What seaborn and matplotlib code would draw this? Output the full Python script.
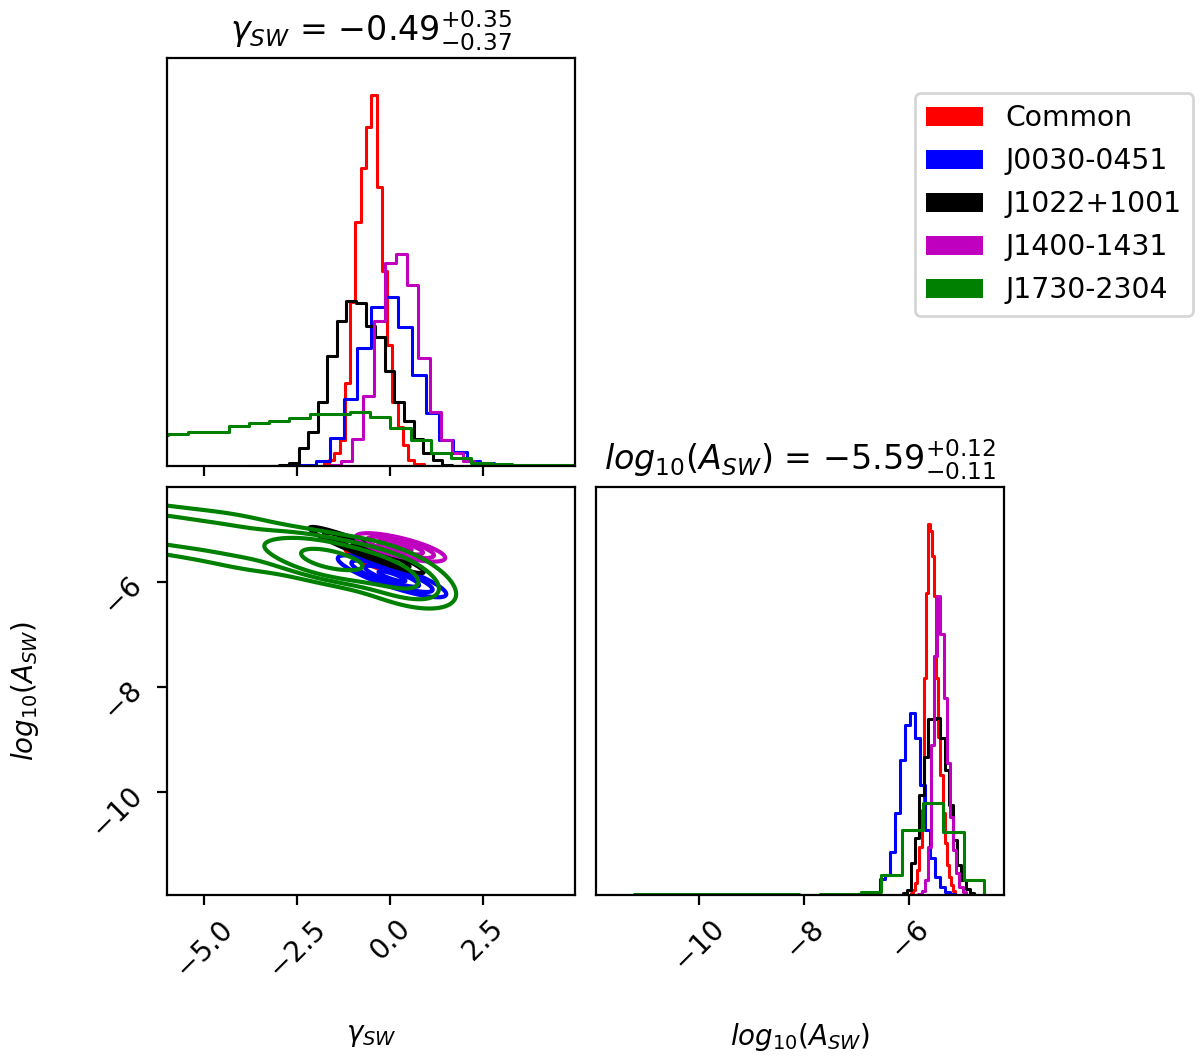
import numpy as np
import pandas as pd
import matplotlib
matplotlib.use("Agg")
import matplotlib.pyplot as plt
import seaborn as sns
from matplotlib.patches import Patch
from matplotlib.ticker import FixedLocator, NullLocator

# ---------------- data ----------------
series_names = ["Common", "J0030-0451", "J1022+1001", "J1400-1431", "J1730-2304"]
series_colors = ["red", "blue", "black", "m", "green"]

# gamma_SW histograms (bin start, bin width, counts)
gam_red_start, gam_red_width = -1.786, 0.142
gam_red_counts = [2.7, 6, 12.7, 26, 82.7, 164, 244, 297.7, 338.7, 371, 279.3, 195, 121,
                  64.3, 39.3, 21, 6, 1.7, 1.7]
gam_blue_start, gam_blue_width = -3.46, 0.368
gam_blue_counts = [0.3, 0.5, 1, 1.5, 5, 27.7, 66.7, 117.7, 159.3, 168.7, 138.7, 91, 52.7,
                   26, 14.3, 5.3, 3]
gam_black_start, gam_black_width = -2.98, 0.258
gam_black_counts = [1, 3.3, 17.7, 34, 64, 110, 145, 165, 163, 140, 129, 95, 64, 45, 27,
                    13, 6, 1.5]
gam_mag_start, gam_mag_width = -1.917, 0.2976
gam_mag_counts = [0.5, 1.5, 5.3, 27, 70, 145, 203, 212, 181, 108, 54, 26, 13, 5, 1.5]
gam_green_start, gam_green_width = -6.52, 0.544
gam_green_counts = [31, 32, 34.3, 34.3, 40, 42.7, 45.3, 47.7, 52.5, 52.5, 54.5, 48.7, 37.7,
                    26.5, 13.5, 7.7, 3.5, 1.8, 1.5, 1.5, 1.5, 1.5]

# log10(A_SW) histograms
amp_red_start, amp_red_width = -5.97, 0.04
amp_red_counts = [2, 5, 12, 25, 48, 85, 218, 303, 372, 365, 340, 300, 218, 158, 120, 82,
                  52, 30, 18, 10, 4]
amp_blue_start, amp_blue_width = -6.65, 0.095
amp_blue_counts = [2, 16, 20, 43, 82, 135, 170, 183, 157, 110, 65, 37, 18, 8, 3, 1]
amp_black_start, amp_black_width = -6.13, 0.08
amp_black_counts = [2, 5, 32, 57, 100, 138, 177, 177, 178, 157, 125, 90, 55, 30, 15, 6, 2]
amp_mag_start, amp_mag_width = -5.83, 0.06
amp_mag_counts = [1, 4, 15, 48, 150, 240, 300, 262, 198, 132, 78, 45, 22, 8, 3]
amp_green_start, amp_green_width = -11.24, 0.392
amp_green_counts = [1.5, 1.5, 1.5, 1.5, 1.5, 1.5, 1.5, 1.5, 0, 1.5, 1.5, 3.3, 20, 65, 92,
                    63, 15]

# 2D posteriors (Gaussian summaries): Common, J0030, J1022, J1400
ell_mx = [-0.49, 0.05, -0.63, 0.28]
ell_my = [-5.58, -5.90, -5.40, -5.35]
ell_sx = [0.36, 0.73, 0.77, 0.60]
ell_sy = [0.12, 0.20, 0.22, 0.135]
ell_rho = [-0.85, -0.85, -0.95, -0.74]

# J1730-2304: elongated band, sum of tilted components
green_w = [0.10, 0.18, 0.17, 0.32, 0.23]
green_mx = [-9.0, -6.3, -3.8, -1.7, 0.1]
green_sx = [1.3, 1.3, 1.2, 0.85, 0.95]
green_my = [-4.78, -5.00, -5.28, -5.57, -5.87]
green_slope = [-0.05, -0.10, -0.13, -0.15, -0.22]
green_sc = [0.30, 0.30, 0.36, 0.21, 0.30]

sigma_levels = [0.5, 1.0, 1.5, 2.0]

gamma_ticks = [-5.0, -2.5, 0.0, 2.5]
amp_ticks = [-10, -8, -6]
gamma_lim = (-6.0, 4.97)
amp_lim = (-11.97, -4.2)

gamma_med, gamma_up, gamma_lo = -0.49, 0.35, 0.37
amp_med, amp_up, amp_lo = -5.59, 0.12, 0.11

# ---------------- style ----------------
sns.set_style("ticks")
plt.rcParams.update({
    "font.family": ["DejaVu Sans"],
    "font.size": 10,
    "axes.edgecolor": "black",
    "axes.linewidth": 0.8,
    "axes.labelcolor": "black",
    "text.color": "black",
    "xtick.color": "black",
    "ytick.color": "black",
    "xtick.major.size": 3.5,
    "ytick.major.size": 3.5,
    "xtick.major.width": 0.8,
    "ytick.major.width": 0.8,
    "xtick.labelsize": 10,
    "ytick.labelsize": 10,
    "axes.titlesize": 12,
    "axes.labelsize": 10,
})

fig = plt.figure(figsize=(6, 5.28), dpi=200)
ax_g = fig.add_axes([167 / 1200, 1 - 466 / 1056, 408 / 1200, 408 / 1056])
ax_2d = fig.add_axes([167 / 1200, 1 - 895 / 1056, 408 / 1200, 408 / 1056])
ax_a = fig.add_axes([596 / 1200, 1 - 895 / 1056, 408 / 1200, 408 / 1056])


def step_hist(ax, start, width, counts, color):
    counts = np.concatenate([[0.0], np.asarray(counts, float), [0.0]])
    edges = start - width + width * np.arange(len(counts) + 1)
    centers = 0.5 * (edges[:-1] + edges[1:])
    df = pd.DataFrame({"val": centers, "cnt": counts})
    sns.histplot(data=df, x="val", weights="cnt", bins=edges.tolist(), element="step",
                 fill=False, color=color, linewidth=1.1, ax=ax)


gam_data = [(gam_red_start, gam_red_width, gam_red_counts),
            (gam_blue_start, gam_blue_width, gam_blue_counts),
            (gam_black_start, gam_black_width, gam_black_counts),
            (gam_mag_start, gam_mag_width, gam_mag_counts),
            (gam_green_start, gam_green_width, gam_green_counts)]
amp_data = [(amp_red_start, amp_red_width, amp_red_counts),
            (amp_blue_start, amp_blue_width, amp_blue_counts),
            (amp_black_start, amp_black_width, amp_black_counts),
            (amp_mag_start, amp_mag_width, amp_mag_counts),
            (amp_green_start, amp_green_width, amp_green_counts)]

for (s, w, c), col in zip(gam_data, series_colors):
    step_hist(ax_g, s, w, c, col)
for (s, w, c), col in zip(amp_data, series_colors):
    step_hist(ax_a, s, w, c, col)

gmax = max(max(c) for _, _, c in gam_data)
amax = max(max(c) for _, _, c in amp_data)

# ---------------- 2D contours ----------------
gx = np.linspace(-16, 8, 601)
gy = np.linspace(-9, -2.5, 401)
X, Y = np.meshgrid(gx, gy)


def gauss2d(mx, my, sx, sy, rho):
    dx = (X - mx) / sx
    dy = (Y - my) / sy
    q = (dx ** 2 - 2 * rho * dx * dy + dy ** 2) / (1 - rho ** 2)
    return np.exp(-0.5 * q) / (2 * np.pi * sx * sy * np.sqrt(1 - rho ** 2))


def mass_levels(Z):
    fr = 1 - np.exp(-0.5 * np.asarray(sigma_levels) ** 2)
    z = np.sort(Z.ravel())[::-1]
    c = np.cumsum(z)
    c /= c[-1]
    lv = [z[min(np.searchsorted(c, f), len(z) - 1)] for f in fr]
    return sorted(lv)


dens = []
for i in range(4):
    dens.append(gauss2d(ell_mx[i], ell_my[i], ell_sx[i], ell_sy[i], ell_rho[i]))
Zg = np.zeros_like(X)
for w, mx, sx, my, b, sc in zip(green_w, green_mx, green_sx, green_my, green_slope, green_sc):
    Zg += (w * np.exp(-0.5 * ((X - mx) / sx) ** 2) / sx *
           np.exp(-0.5 * ((Y - (my + b * (X - mx))) / sc) ** 2) / sc)
dens.append(Zg)

for Z, col in zip(dens, series_colors):
    ax_2d.contour(X, Y, Z, levels=mass_levels(Z), colors=col, linewidths=1.5)

# ---------------- axes cosmetics ----------------
for ax in (ax_g, ax_2d, ax_a):
    ax.set_xlabel("")
    ax.set_ylabel("")
    for sp in ax.spines.values():
        sp.set_visible(True)
        sp.set_color("black")
        sp.set_linewidth(0.8)

ax_g.set_xlim(*gamma_lim)
ax_g.set_ylim(0, 1.1 * gmax)
ax_g.xaxis.set_major_locator(FixedLocator(gamma_ticks))
ax_g.set_xticklabels([])
ax_g.yaxis.set_major_locator(NullLocator())
ax_g.set_title(r"$\gamma_{SW}$ = $%.2f_{-%.2f}^{+%.2f}$" % (gamma_med, gamma_lo, gamma_up))

ax_a.set_xlim(*amp_lim)
ax_a.set_ylim(0, 1.1 * amax)
ax_a.xaxis.set_major_locator(FixedLocator(amp_ticks))
ax_a.yaxis.set_major_locator(NullLocator())
ax_a.set_title(r"$log_{10}(A_{SW})$ = $%.2f_{-%.2f}^{+%.2f}$" % (amp_med, amp_lo, amp_up))
for lab in ax_a.get_xticklabels():
    lab.set_rotation(45)
ax_a.set_xlabel(r"$log_{10}(A_{SW})$")
ax_a.xaxis.set_label_coords(0.5, -0.31)

ax_2d.set_xlim(*gamma_lim)
ax_2d.set_ylim(*amp_lim)
ax_2d.xaxis.set_major_locator(FixedLocator(gamma_ticks))
ax_2d.yaxis.set_major_locator(FixedLocator(amp_ticks))
for lab in ax_2d.get_xticklabels():
    lab.set_rotation(45)
for lab in ax_2d.get_yticklabels():
    lab.set_rotation(45)
ax_2d.set_xlabel(r"$\gamma_{SW}$")
ax_2d.set_ylabel(r"$log_{10}(A_{SW})$")
ax_2d.xaxis.set_label_coords(0.5, -0.31)
ax_2d.yaxis.set_label_coords(-0.31, 0.5)

handles = [Patch(facecolor=c, edgecolor="none", label=n)
           for n, c in zip(series_names, series_colors)]
fig.legend(handles=handles, loc="upper left", bbox_to_anchor=(915 / 1200, 1 - 93 / 1056),
           borderaxespad=0, fontsize=10.2, labelspacing=0.53, frameon=True)

fig.savefig("out.png", dpi=200)
